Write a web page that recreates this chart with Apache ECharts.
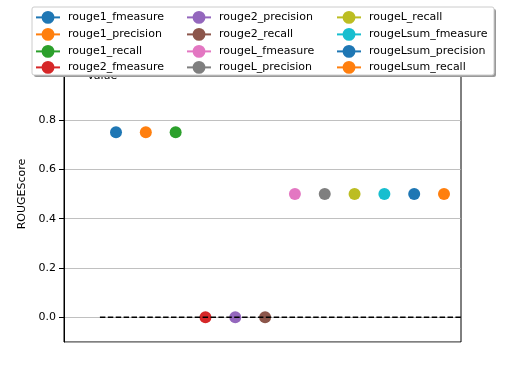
<!DOCTYPE html>
<html><head><meta charset="utf-8">
<script src="https://cdn.jsdelivr.net/npm/echarts@6/dist/echarts.min.js"></script>
<style>html,body{margin:0;padding:0;background:#fff}#c{width:512px;height:384px}</style>
</head><body><div id="c"></div>
<script>
const metricNames = ['rouge1_fmeasure','rouge1_precision','rouge1_recall','rouge2_fmeasure','rouge2_precision','rouge2_recall','rougeL_fmeasure','rougeL_precision','rougeL_recall','rougeLsum_fmeasure','rougeLsum_precision','rougeLsum_recall'];
const scores = [0.75,0.75,0.75,0.0,0.0,0.0,0.5,0.5,0.5,0.5,0.5,0.5];
const baseline = [[-0.54,0],[12,0]];
const colors = ['#1f77b4','#ff7f0e','#2ca02c','#d62728','#9467bd','#8c564b','#e377c2','#7f7f7f','#bcbd22','#17becf','#1f77b4','#ff7f0e'];

const font = 'DejaVu Sans';
const series = metricNames.map((n,i)=>({
  name:n, type:'line', data:[[i,scores[i]]], symbol:'circle', symbolSize:12,
  itemStyle:{color:colors[i]}, lineStyle:{color:colors[i],width:1.5}, z:2
}));
series.push({type:'line', name:'baseline', data:baseline, symbol:'none', clip:true,
  lineStyle:{color:'#000',width:1.5,type:[5.5,2.4]}, z:5, silent:true});

const colLeft = [35,186,336];
const rowTop = [11,28,45,61];
const legends = metricNames.map((n,i)=>({
  left:colLeft[Math.floor(i/4)], top:rowTop[i%4], data:[n], itemWidth:24, itemHeight:16,
  textStyle:{fontFamily:font,fontSize:11,color:'#000',padding:[0,0,0,3]}, z:20, padding:0, selectedMode:false
}));
const chart = echarts.init(document.getElementById('c'));
chart.setOption({
  animation:false,
  color:colors,
  title:{text:'Value',left:87,top:71,padding:0,z:1,textStyle:{fontFamily:font,fontSize:11,fontWeight:'normal',color:'#000'}},
  grid:{left:64,right:51,top:46,bottom:42,show:true,borderColor:'#000',borderWidth:1,backgroundColor:'transparent'},
  xAxis:{type:'value',min:-1.744,max:11.57,show:true,axisLine:{show:false,onZero:false},axisTick:{show:false},axisLabel:{show:false},splitLine:{show:false}},
  yAxis:{type:'value',position:'left',min:-0.1,max:1.1,splitNumber:6,name:'ROUGEScore',nameLocation:'middle',nameGap:29,
    nameTextStyle:{fontFamily:font,fontSize:11,color:'#000'},
    axisLine:{show:true,onZero:false,lineStyle:{color:'#000',width:1}},
    axisTick:{show:true,inside:false,length:5,lineStyle:{color:'#000',width:1}},
    axisLabel:{show:true,fontFamily:font,fontSize:11,color:'#000',margin:8,showMinLabel:false,showMaxLabel:false,formatter:v=>v.toFixed(1)},
    splitLine:{show:true,lineStyle:{color:'#b0b0b0',width:0.8}}},
  legend:legends,
  graphic:[
    {type:'rect',shape:{x:34,y:9,width:462,height:68,r:2},style:{fill:'#999'},z:10},
    {type:'rect',shape:{x:32,y:7,width:462,height:68,r:2},style:{fill:'#fff',stroke:'#ccc',lineWidth:1},z:11}
  ],
  series:series
});
</script></body></html>
